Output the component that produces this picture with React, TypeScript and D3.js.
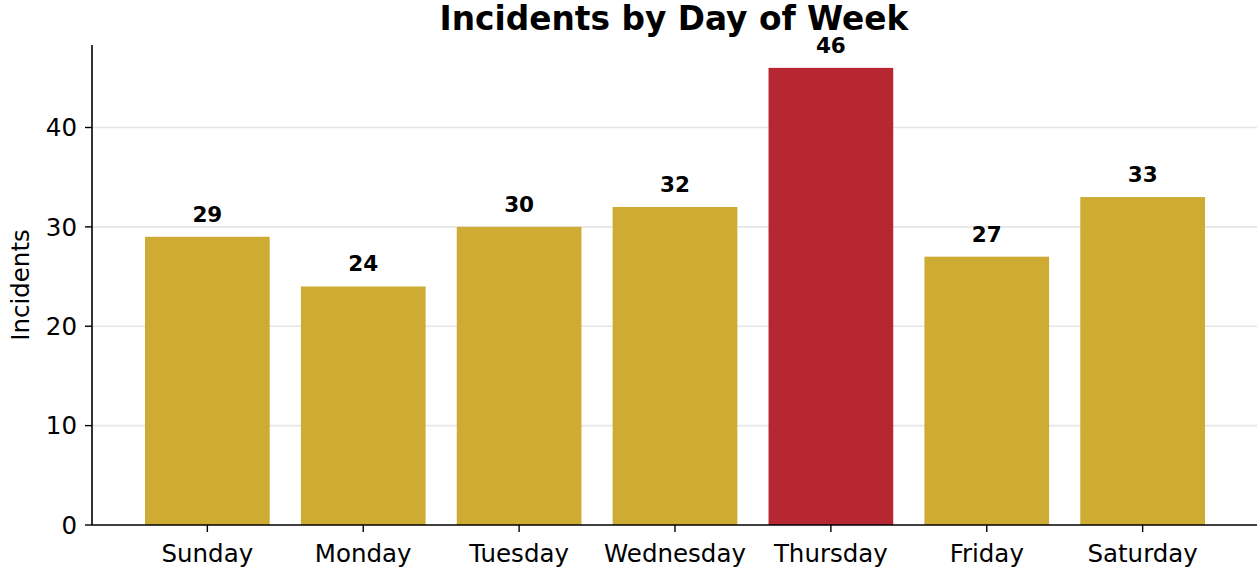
import React from "react";
import * as d3 from "d3";

const days = ["Sunday", "Monday", "Tuesday", "Wednesday", "Thursday", "Friday", "Saturday"];
const incidents = [29, 24, 30, 32, 46, 27, 33];
const yTicks = [0, 10, 20, 30, 40];
const highlightDay = "Thursday";

const W = 1257;
const H = 571;
const left = 92;
const right = 1258;
const top = 45;
const bottom = 525;
const FONT = "DejaVu Sans, sans-serif";

export default function App() {
  const x = d3.scaleLinear().domain([-0.74, days.length - 1 + 0.74]).range([left, right]);
  const y = d3.scaleLinear().domain([0, 48.3]).range([bottom, top]);
  const bw = x(0.8) - x(0);

  return (
    <svg width={W} height={H} style={{ position: "absolute", left: 0, top: 0, background: "#fff" }}>
      {yTicks.filter((t) => t > 0).map((t) => (
        <line key={"g" + t} x1={left} x2={W} y1={y(t)} y2={y(t)} stroke="#e6e6e6" strokeWidth={1.6} />
      ))}
      {days.map((d, i) => (
        <rect
          key={d}
          x={x(i) - bw / 2}
          y={y(incidents[i])}
          width={bw}
          height={y(0) - y(incidents[i])}
          fill={d === highlightDay ? "#B5202A" : "#CCA82C"}
          fillOpacity={0.97}
        />
      ))}
      {days.map((d, i) => (
        <text
          key={"v" + d}
          x={x(i)}
          y={y(incidents[i]) - 15}
          textAnchor="middle"
          fontFamily={FONT}
          fontWeight="bold"
          fontSize={21.5}
          fill="#000"
        >
          {incidents[i]}
        </text>
      ))}
      <line x1={left} x2={left} y1={top} y2={bottom} stroke="#000" strokeWidth={1.6} />
      <line x1={left} x2={W} y1={bottom} y2={bottom} stroke="#000" strokeWidth={1.6} />
      {yTicks.map((t) => (
        <g key={"yt" + t}>
          <line x1={left - 7} x2={left} y1={y(t)} y2={y(t)} stroke="#000" strokeWidth={1.4} />
          <text x={left - 15} y={y(t)} dy="0.36em" textAnchor="end" fontFamily={FONT} fontSize={24.5} fill="#000">
            {t}
          </text>
        </g>
      ))}
      {days.map((d, i) => (
        <g key={"xt" + d}>
          <line x1={x(i)} x2={x(i)} y1={bottom} y2={bottom + 7} stroke="#000" strokeWidth={1.4} />
          <text x={x(i)} y={bottom + 37} textAnchor="middle" fontFamily={FONT} fontSize={24.5} fill="#000">
            {d}
          </text>
        </g>
      ))}
      <text
        transform={`translate(29, ${(top + bottom) / 2}) rotate(-90)`}
        textAnchor="middle"
        fontFamily={FONT}
        fontSize={24.5}
        fill="#000"
      >
        Incidents
      </text>
      <text x={(left + right) / 2 - 1} y={30} textAnchor="middle" fontFamily={FONT} fontWeight="bold" fontSize={32.8} fill="#000">
        Incidents by Day of Week
      </text>
    </svg>
  );
}
